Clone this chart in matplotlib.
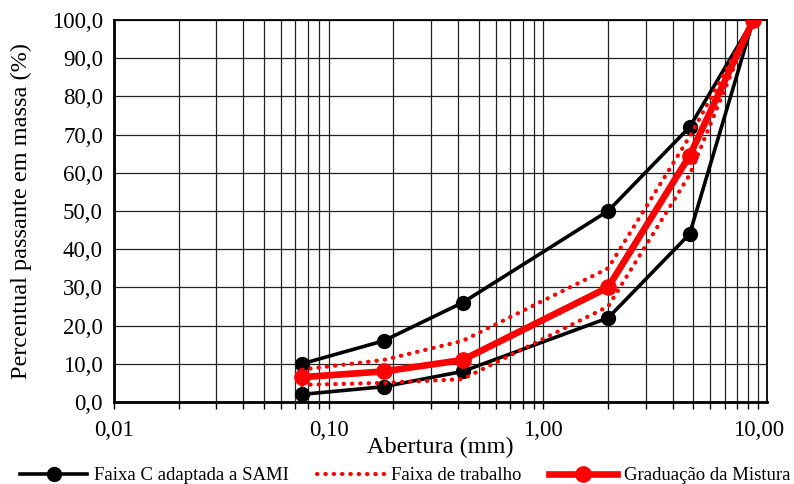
import numpy as np
import matplotlib.pyplot as plt
from matplotlib.ticker import FixedLocator, FuncFormatter

plt.rcParams['font.family'] = ['Liberation Serif', 'DejaVu Serif']

# sieve openings (mm)
abertura = [0.075, 0.18, 0.42, 2.0, 4.8, 9.5]
# Faixa C adaptada a SAMI
faixa_c_sup = [10, 16, 26, 50, 72, 100]
faixa_c_inf = [2, 4, 8, 22, 44, 100]
# Faixa de trabalho
trab_sup = [8.5, 11, 16, 35, 69.5, 100]
trab_inf = [4.5, 5, 6, 25, 59.5, 100]
# Graduacao da mistura
mistura = [6.5, 8, 11, 30, 64.5, 100]

x_ticks = [0.01, 0.1, 1, 10]
x_ticklabels = ['0,01', '0,10', '1,00', '10,00']

fig = plt.figure(figsize=(7.94, 4.84), dpi=100)
ax = fig.add_axes([0.1436, 0.1694, 0.8224, 0.7893])

ax.plot(abertura, faixa_c_sup, color='black', lw=2.6, marker='o', ms=10,
        label='Faixa C adaptada a SAMI', zorder=3)
ax.plot(abertura, faixa_c_inf, color='black', lw=2.6, marker='o', ms=10, zorder=3)
dot = (0, (0.1, 1.9))
ax.plot(abertura, trab_sup, color='red', lw=3, ls=dot, dash_capstyle='round',
        label='Faixa de trabalho', zorder=4)
ax.plot(abertura, trab_inf, color='red', lw=3, ls=dot, dash_capstyle='round', zorder=4)
ax.plot(abertura, mistura, color='red', lw=4.8, marker='o', ms=11,
        label='Graduação da Mistura', zorder=5)

ax.set_xscale('log')
ax.set_xlim(0.01, 11.0)
ax.set_ylim(0, 100)

minor = []
for d in [0.01, 0.1, 1]:
    for k in range(2, 10):
        minor.append(d * k)
ax.xaxis.set_major_locator(FixedLocator(x_ticks))
ax.xaxis.set_minor_locator(FixedLocator(minor))
ax.set_xticklabels(x_ticklabels)
ax.xaxis.set_minor_formatter(FuncFormatter(lambda v, p: ''))
ax.set_yticks(np.arange(0, 101, 10))
ax.yaxis.set_major_formatter(FuncFormatter(lambda v, p: ('%.1f' % v).replace('.', ',')))

ax.grid(True, which='both', axis='x', color='#222222', lw=0.9)
ax.grid(True, which='major', axis='y', color='#222222', lw=0.9)
ax.tick_params(axis='x', which='both', direction='out', length=5, width=1, labelsize=16.5, pad=8)
ax.tick_params(axis='y', length=0, labelsize=16.5, pad=8)

for s in ['left', 'bottom']:
    ax.spines[s].set_linewidth(2)
for s in ['top', 'right']:
    ax.spines[s].set_linewidth(1.3)

ax.set_xlabel('Abertura (mm)', fontsize=17.5, labelpad=-3)
ax.set_ylabel('Percentual passante em massa (%)', fontsize=17.5, labelpad=14)

fig.legend(loc='lower center', bbox_to_anchor=(0.51, -0.035), ncol=3, frameon=False,
           fontsize=13.5, handlelength=3.6, columnspacing=1.5, handletextpad=0.35)

fig.savefig('out.png', dpi=100)
